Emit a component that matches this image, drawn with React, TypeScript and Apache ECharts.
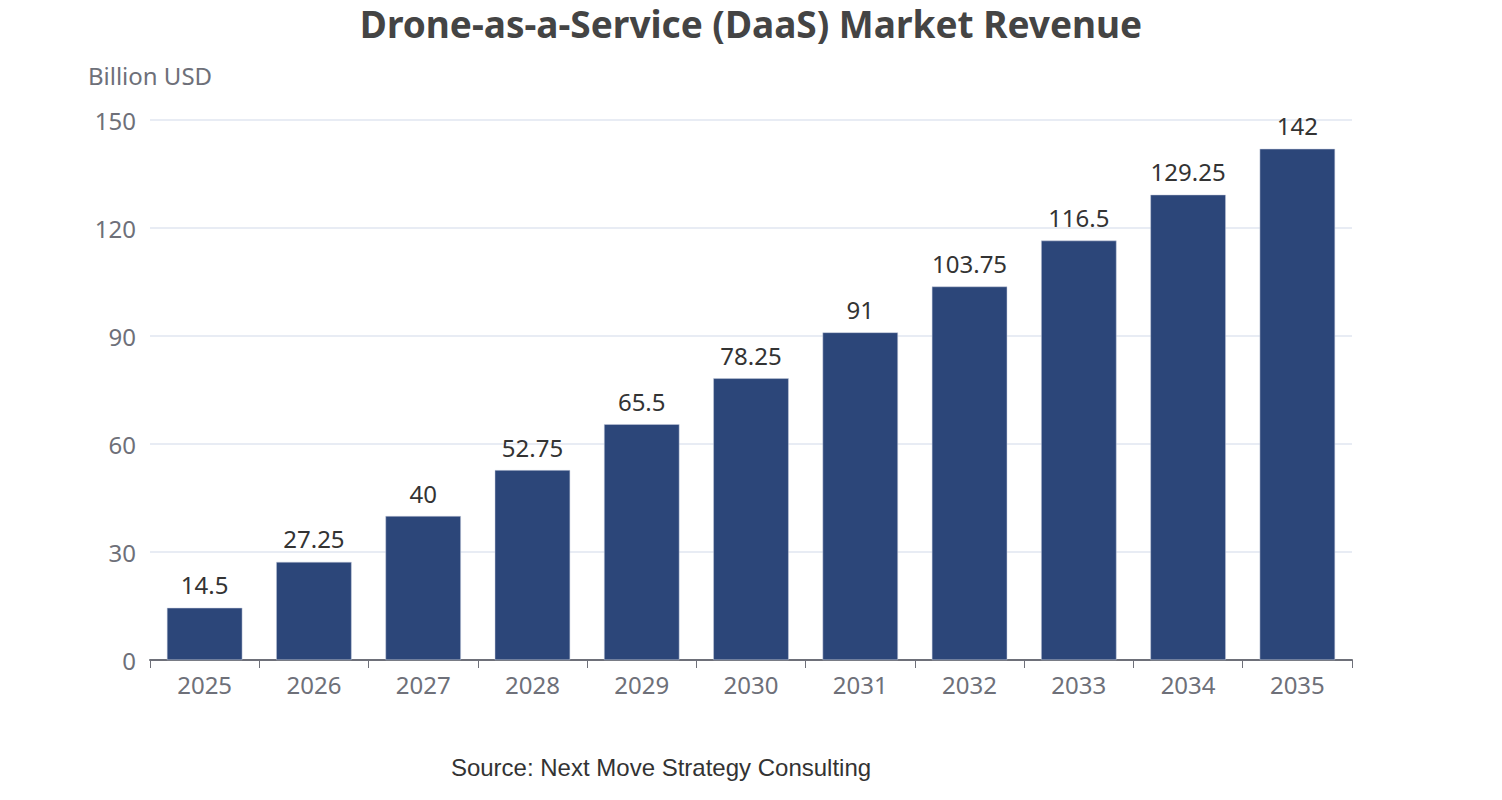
import React, { useEffect, useRef } from "react";
import * as echarts from "echarts";

const categories = ["2025", "2026", "2027", "2028", "2029", "2030", "2031", "2032", "2033", "2034", "2035"];
const revenue = [14.5, 27.25, 40, 52.75, 65.5, 78.25, 91, 103.75, 116.5, 129.25, 142];

export default function App() {
  const ref = useRef<HTMLDivElement>(null);
  useEffect(() => {
    if (!ref.current) return;
    const chart = echarts.init(ref.current, undefined, { renderer: "svg" });
    chart.setOption({
      animation: false,
      title: {
        text: "Drone-as-a-Service (DaaS) Market Revenue",
        left: "center",
        top: 5,
        padding: 0,
        textStyle: { fontSize: 37, lineHeight: 37, fontWeight: "bold", color: "#444", fontFamily: "Noto Sans" },
      },
      grid: { left: 150, right: 150, top: 120, bottom: 140 },
      xAxis: {
        type: "category",
        data: categories,
        axisTick: { show: true, length: 8, lineStyle: { color: "#6e7079" } },
        axisLine: { lineStyle: { color: "#6e7079", width: 2 } },
        axisLabel: { fontSize: 24, color: "#6e7079", margin: 12, fontFamily: "Noto Sans" },
      },
      yAxis: {
        type: "value",
        name: "Billion USD",
        nameTextStyle: { fontSize: 24, color: "#6e7079", align: "center", padding: [0, 0, 18, 0], fontFamily: "Noto Sans" },
        min: 0,
        max: 150,
        interval: 30,
        axisLabel: { fontSize: 24, color: "#6e7079", margin: 14, fontFamily: "Noto Sans" },
        splitLine: { lineStyle: { color: "#e0e6f1", width: 1.5 } },
      },
      series: [
        {
          type: "bar",
          data: revenue,
          barWidth: "69%",
          itemStyle: { color: "#2c4679", borderColor: "#c8cfdf", borderWidth: 0.5 },
          label: { show: true, position: "top", fontSize: 24, color: "#333", distance: 11, fontFamily: "Noto Sans" },
        },
      ],
      graphic: [
        {
          type: "text",
          x: 661,
          y: 767,
          style: {
            text: "Source: Next Move Strategy Consulting",
            fontSize: 24,
            fill: "#333",
            fontFamily: "Liberation Sans",
            textAlign: "center",
            textVerticalAlign: "middle",
          },
        },
      ],
    });
    return () => chart.dispose();
  }, []);
  return <div ref={ref} style={{ position: "absolute", left: 0, top: 0, width: 1502, height: 800 }} />;
}
